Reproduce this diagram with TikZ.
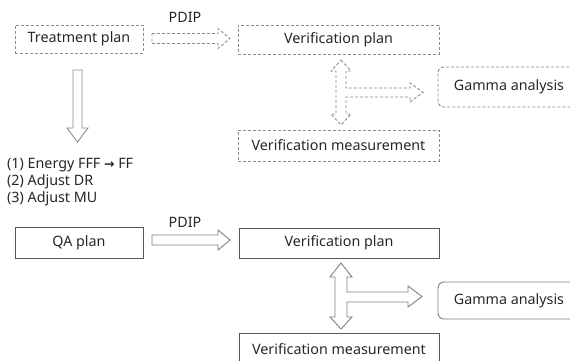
\documentclass[tikz,border=0pt]{standalone}
\usepackage{fontspec}
\setmainfont{Noto Sans}
\newfontfamily\symfont{DejaVu Sans}
\begin{document}
\begin{tikzpicture}[x=1pt,y=-1pt,
  every node/.style={font=\fontsize{14.3}{16}\selectfont, inner sep=0pt, text=black!85},
  dbox/.style={draw=black!45, dash pattern=on 3pt off 2pt, line width=0.9pt},
  sbox/.style={draw=black!65, line width=0.9pt},
  darr/.style={draw=black!45, dash pattern=on 3pt off 2pt, line width=0.9pt, line join=miter},
  sarr/.style={draw=black!50, line width=0.9pt, line join=miter},
  lbl/.style={anchor=west}]
\useasboundingbox (0,0) rectangle (570,360);
% ---- top (dashed) ----
\node[dbox, minimum width=128pt, minimum height=28pt] (tp) at (79,39) {Treatment plan};
\node[dbox, minimum width=201pt, minimum height=29pt] (vp1) at (338.5,39.5) {Verification plan};
\node[dbox, minimum width=201pt, minimum height=31pt] (vm1) at (338.5,145.5) {Verification measurement};
\node[dbox, rounded corners=6pt, minimum width=142pt, minimum height=40pt] (ga1) at (509,87) {Gamma analysis};
\node (pdip1) at (185,17) {PDIP};
% PDIP arrow top
\draw[darr] (152,33.5) -- (218,33.5) -- (218,28.5) -- (230,38.5) -- (218,48.5) -- (218,43.5) -- (152,43.5) -- cycle;
% T arrow top
\draw[darr] (341,60) -- (351,71) -- (346,71) -- (346,88) -- (410,88) -- (410,83) -- (423,92.5)
  -- (410,102) -- (410,97) -- (346,97) -- (346,114) -- (351,114) -- (341,125) -- (331,114)
  -- (336,114) -- (336,71) -- (331,71) -- cycle;
% down arrow
\draw[sarr, draw=black!45] (73,70) -- (82,70) -- (82,128) -- (88,128) -- (77.5,142) -- (67,128) -- (73,128) -- cycle;
% list
\node[lbl] (l1) at (7,165) {(1) Energy FFF {\symfont\bfseries\fontsize{12.5}{14}\selectfont →} FF};
\node[lbl] (l2) at (7,182) {(2) Adjust DR};
\node[lbl] (l3) at (7,198.5) {(3) Adjust MU};
% ---- bottom (solid) ----
\node[sbox, minimum width=128pt, minimum height=31pt] (qa) at (79,242.5) {QA plan};
\node[sbox, minimum width=200pt, minimum height=30pt] (vp2) at (339,243) {Verification plan};
\node[sbox, minimum width=200pt, minimum height=32pt] (vm2) at (339,349) {Verification measurement};
\node[sbox, draw=black!50, rounded corners=6pt, minimum width=142pt, minimum height=37pt] (ga2) at (509,300.5) {Gamma analysis};
\node (pdip2) at (185,222) {PDIP};
% PDIP arrow bottom
\draw[sarr] (152,235) -- (218,235) -- (218,230) -- (230,240) -- (218,250) -- (218,245) -- (152,245) -- cycle;
% T arrow bottom
\draw[sarr] (341,263) -- (352,277) -- (347,277) -- (347,292) -- (408,292) -- (408,286) -- (422,296.5)
  -- (408,307) -- (408,302) -- (347,302) -- (347,317) -- (352,317) -- (341,329) -- (330,317)
  -- (335,317) -- (335,277) -- (330,277) -- cycle;
\end{tikzpicture}
\end{document}
